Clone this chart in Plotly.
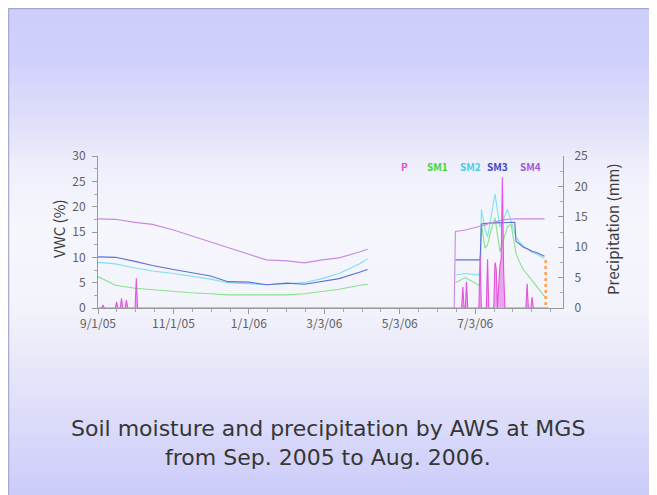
import plotly.graph_objects as go
import pandas as pd

# ---------------- data ----------------
seg1_dates = ['2005-09-01', '2005-09-15', '2005-10-01', '2005-10-15', '2005-11-01', '2005-11-15',
              '2005-12-01', '2005-12-15', '2006-01-01', '2006-01-15', '2006-02-01', '2006-02-15',
              '2006-03-01', '2006-03-15', '2006-04-01', '2006-04-07']
seg2_dates = ['2006-06-16', '2006-06-17', '2006-06-25', '2006-07-06', '2006-07-07', '2006-07-08',
              '2006-07-11', '2006-07-13', '2006-07-16', '2006-07-19', '2006-07-23', '2006-07-26',
              '2006-07-29', '2006-08-01', '2006-08-04', '2006-08-05', '2006-08-08', '2006-08-11',
              '2006-08-15', '2006-08-18', '2006-08-22', '2006-08-25', '2006-08-28']

sm1_seg1 = [6.2, 4.5, 3.9, 3.6, 3.3, 3.0, 2.8, 2.6, 2.6, 2.6, 2.6, 2.8, 3.2, 3.7, 4.5, 4.7]
sm2_seg1 = [9.0, 8.7, 7.9, 7.3, 6.8, 6.3, 5.7, 5.0, 4.8, 4.6, 4.8, 5.0, 5.8, 6.8, 8.8, 9.7]
sm3_seg1 = [10.1, 10.0, 9.2, 8.4, 7.6, 7.0, 6.3, 5.2, 5.1, 4.6, 4.9, 4.7, 5.3, 5.8, 7.1, 7.6]
sm4_seg1 = [17.6, 17.5, 16.9, 16.5, 15.4, 14.3, 13.0, 11.9, 10.5, 9.5, 9.3, 8.9, 9.5, 9.9, 11.1, 11.6]

sm1_seg2 = [None, 5.0, 6.0, 4.5, 5.0, 16.5, 11.8, 12.5, 15.5, 17.8, 11.1, 13.5, 16.0, 16.5, 11.5,
            10.8, 9.0, 7.5, 6.4, 5.4, 4.3, 3.3, 2.3]
sm2_seg2 = [None, 6.5, 6.8, 6.5, 8.0, 19.5, 15.5, 14.0, 18.0, 22.5, 16.0, 17.5, 19.5, 17.0, 14.5,
            14.0, 13.0, 12.2, 11.5, 11.0, 10.6, 10.2, 9.8]
sm3_seg2 = [None, 9.5, 9.5, 9.5, 9.5, 16.6, 16.7, 16.7, 16.8, 16.8, 16.8, 16.9, 16.9, 16.9, 16.9,
            13.2, 12.5, 12.0, 11.6, 11.2, 10.9, 10.6, 10.2]
sm4_seg2 = [0.0, 15.1, 15.4, 16.0, 16.1, 16.2, 16.4, 16.6, 16.8, 17.0, 17.2, 17.4, 17.5, 17.6, 17.6,
            17.6, 17.6, 17.6, 17.6, 17.6, 17.6, 17.6, 17.6]

precip_start, precip_end = '2005-09-01', '2006-08-31'
precip_dates = ['2005-09-05', '2005-09-16', '2005-09-20', '2005-09-24', '2005-10-02',
                '2006-06-23', '2006-06-26', '2006-07-07', '2006-07-13', '2006-07-19', '2006-07-20',
                '2006-07-22', '2006-07-23', '2006-07-24', '2006-07-25', '2006-07-26',
                '2006-08-14', '2006-08-18']
precip_mm = [0.5, 1.0, 1.6, 1.3, 4.9,
             3.5, 4.3, 8.5, 8.0, 7.5, 6.5,
             5.0, 7.0, 8.0, 21.5, 6.0,
             4.0, 1.8]

marker_date = '2006-08-29'
marker_range = [-1.5, 8.3]

tick_dates = ['2005-09-01', '2005-11-01', '2006-01-01', '2006-03-03', '2006-05-03', '2006-07-03']
tick_labels = ['9/1/05', '11/1/05', '1/1/06', '3/3/06', '5/3/06', '7/3/06']
x_range = ['2005-09-01', '2006-09-12']

legend_names = ['P', 'SM1', 'SM2', 'SM3', 'SM4']
title_lines = ['Soil moisture and precipitation by AWS at MGS', 'from Sep. 2005 to Aug. 2006.']

# ---------------- styles ----------------
OFF = 8                      # page body margin of the html
W, H = 657 - OFF, 495 - OFF  # figure size
PL, PR, PT, PB = 98, 563, 156, 308   # plot box in page pixels
ML, MR, MT, MB = PL - OFF, W - (PR - OFF), PT - OFF, H - (PB - OFF)
PW, PH = W - ML - MR, H - MT - MB

C_P = '#e255dc'
C_SM1 = '#86e488'
C_SM2 = '#7fe0ef'
C_SM3 = '#5f6fd8'
C_SM4 = '#c98ade'
LEG_COLORS = ['#d455d4', '#3bd83b', '#3fd0e8', '#3f44cc', '#a25ad6']


def px_x(px):            # page pixel -> paper
    return (px - OFF - ML) / PW


def px_y(py):
    return (H - MB - (py - OFF)) / PH


fig = go.Figure()

daily = pd.Series(0.0, index=pd.date_range(precip_start, precip_end, freq='D'))
for d, v in zip(precip_dates, precip_mm):
    daily[pd.Timestamp(d)] = v
fig.add_trace(go.Scatter(x=daily.index, y=daily.values, yaxis='y2', mode='lines',
                         line=dict(color=C_P, width=1.1), fill='tozeroy',
                         fillcolor='rgba(226,85,220,0.5)', name='P'))


def seg(v1, v2):
    return list(v1) + [None] + list(v2)


all_dates = seg1_dates + ['2006-05-15'] + seg2_dates
for name, v1, v2, col in [('SM1', sm1_seg1, sm1_seg2, C_SM1), ('SM2', sm2_seg1, sm2_seg2, C_SM2),
                          ('SM3', sm3_seg1, sm3_seg2, C_SM3), ('SM4', sm4_seg1, sm4_seg2, C_SM4)]:
    fig.add_trace(go.Scatter(x=all_dates, y=seg(v1, v2), mode='lines', connectgaps=False,
                             line=dict(color=col, width=1.1), name=name))

fig.add_trace(go.Scatter(x=[marker_date, marker_date], y=marker_range, yaxis='y2', mode='lines',
                         line=dict(color='#ff9f50', width=2.5, dash='dot'), name='end'))

# ---------------- background gradient ----------------
stops = [(0, (205, 205, 251)), (60, (208, 208, 252)), (130, (226, 226, 250)), (170, (240, 240, 252)),
         (230, (246, 246, 253)), (310, (243, 243, 252)), (360, (232, 232, 250)), (420, (220, 220, 250)),
         (495, (203, 203, 250))]


def col_at(py):
    for (y0, c0), (y1, c1) in zip(stops[:-1], stops[1:]):
        if y0 <= py <= y1:
            t = (py - y0) / (y1 - y0)
            return 'rgb(%d,%d,%d)' % tuple(round(a + (b - a) * t) for a, b in zip(c0, c1))
    return 'rgb(%d,%d,%d)' % stops[-1][1]


shapes = []
step = 5
for py in range(OFF, 495, step):
    shapes.append(dict(type='rect', xref='paper', yref='paper', layer='below',
                       x0=px_x(OFF), x1=px_x(657), y0=px_y(py), y1=px_y(min(py + step + 0.5, 495)),
                       fillcolor=col_at(py + step / 2), line=dict(width=0)))
shapes.append(dict(type='line', xref='paper', yref='paper', layer='below',
                   x0=px_x(OFF), x1=px_x(657), y0=px_y(OFF + 0.5), y1=px_y(OFF + 0.5),
                   line=dict(color='rgb(165,165,210)', width=1.5)))
shapes.append(dict(type='line', xref='paper', yref='paper', layer='below',
                   x0=px_x(OFF + 0.5), x1=px_x(OFF + 0.5), y0=px_y(OFF), y1=px_y(495),
                   line=dict(color='rgb(170,170,205)', width=1.5)))

# ---------------- annotations ----------------
FONT = 'Noto Sans CJK JP, DejaVu Sans, sans-serif'
TFONT = 'DejaVu Sans, sans-serif'
ann = []
for txt, yy in zip(title_lines, [428, 457]):
    ann.append(dict(text=txt, xref='paper', yref='paper', x=px_x(328), y=px_y(yy),
                    xanchor='center', yanchor='middle', showarrow=False,
                    font=dict(family=TFONT, size=22, color='#363636')))
ann.append(dict(text='VWC (%)', textangle=-90, xref='paper', yref='paper', x=px_x(58), y=px_y(229),
                xanchor='center', yanchor='middle', showarrow=False,
                font=dict(family=FONT, size=15, color='#3c3c3c')))
ann.append(dict(text='Precipitation (mm)', textangle=-90, xref='paper', yref='paper', x=px_x(612),
                y=px_y(230), xanchor='center', yanchor='middle', showarrow=False,
                font=dict(family=FONT, size=15, color='#3c3c3c')))
leg_x = [404.5, 437, 470, 497.5, 530.5]
for name, xx, col in zip(legend_names, leg_x, LEG_COLORS):
    ann.append(dict(text='<b>%s</b>' % name, xref='paper', yref='paper', x=px_x(xx), y=px_y(166),
                    xanchor='center', yanchor='middle', showarrow=False,
                    font=dict(family=FONT, size=10, color=col)))

axis_font = dict(family=FONT, size=12, color='#5f5f5f')
fig.update_layout(
    width=W, height=H, autosize=False,
    margin=dict(l=ML, r=MR, t=MT, b=MB, autoexpand=False),
    paper_bgcolor='white', plot_bgcolor='rgba(0,0,0,0)',
    showlegend=False, shapes=shapes, annotations=ann,
    xaxis=dict(type='date', range=x_range, tickvals=tick_dates, ticktext=tick_labels,
               showgrid=False, zeroline=False, showline=True, linecolor='#9a9a9a', linewidth=1,
               ticks='outside', ticklen=5, tickcolor='#9a9a9a', tickfont=axis_font,
               minor=dict(ticks='outside', ticklen=3, tickcolor='#aaaaaa', dtick=15.25 * 86400000,
                          tick0='2005-09-01', showgrid=False)),
    yaxis=dict(range=[0, 30], dtick=5, showgrid=False, zeroline=False, showline=True,
               linecolor='#9a9a9a', linewidth=1, ticks='outside', ticklen=5, tickcolor='#9a9a9a',
               tickfont=axis_font, ticklabelstandoff=4,
               minor=dict(ticks='outside', ticklen=3, dtick=2.5, tickcolor='#aaaaaa')),
    yaxis2=dict(range=[0, 25], dtick=5, overlaying='y', side='right', showgrid=False, zeroline=False,
                showline=True, linecolor='#9a9a9a', linewidth=1, ticks='inside', ticklen=5,
                tickcolor='#9a9a9a', tickfont=axis_font, ticklabelstandoff=8,
                minor=dict(ticks='inside', ticklen=3, dtick=2.5, tickcolor='#aaaaaa')),
)

fig.write_html('out.html')
